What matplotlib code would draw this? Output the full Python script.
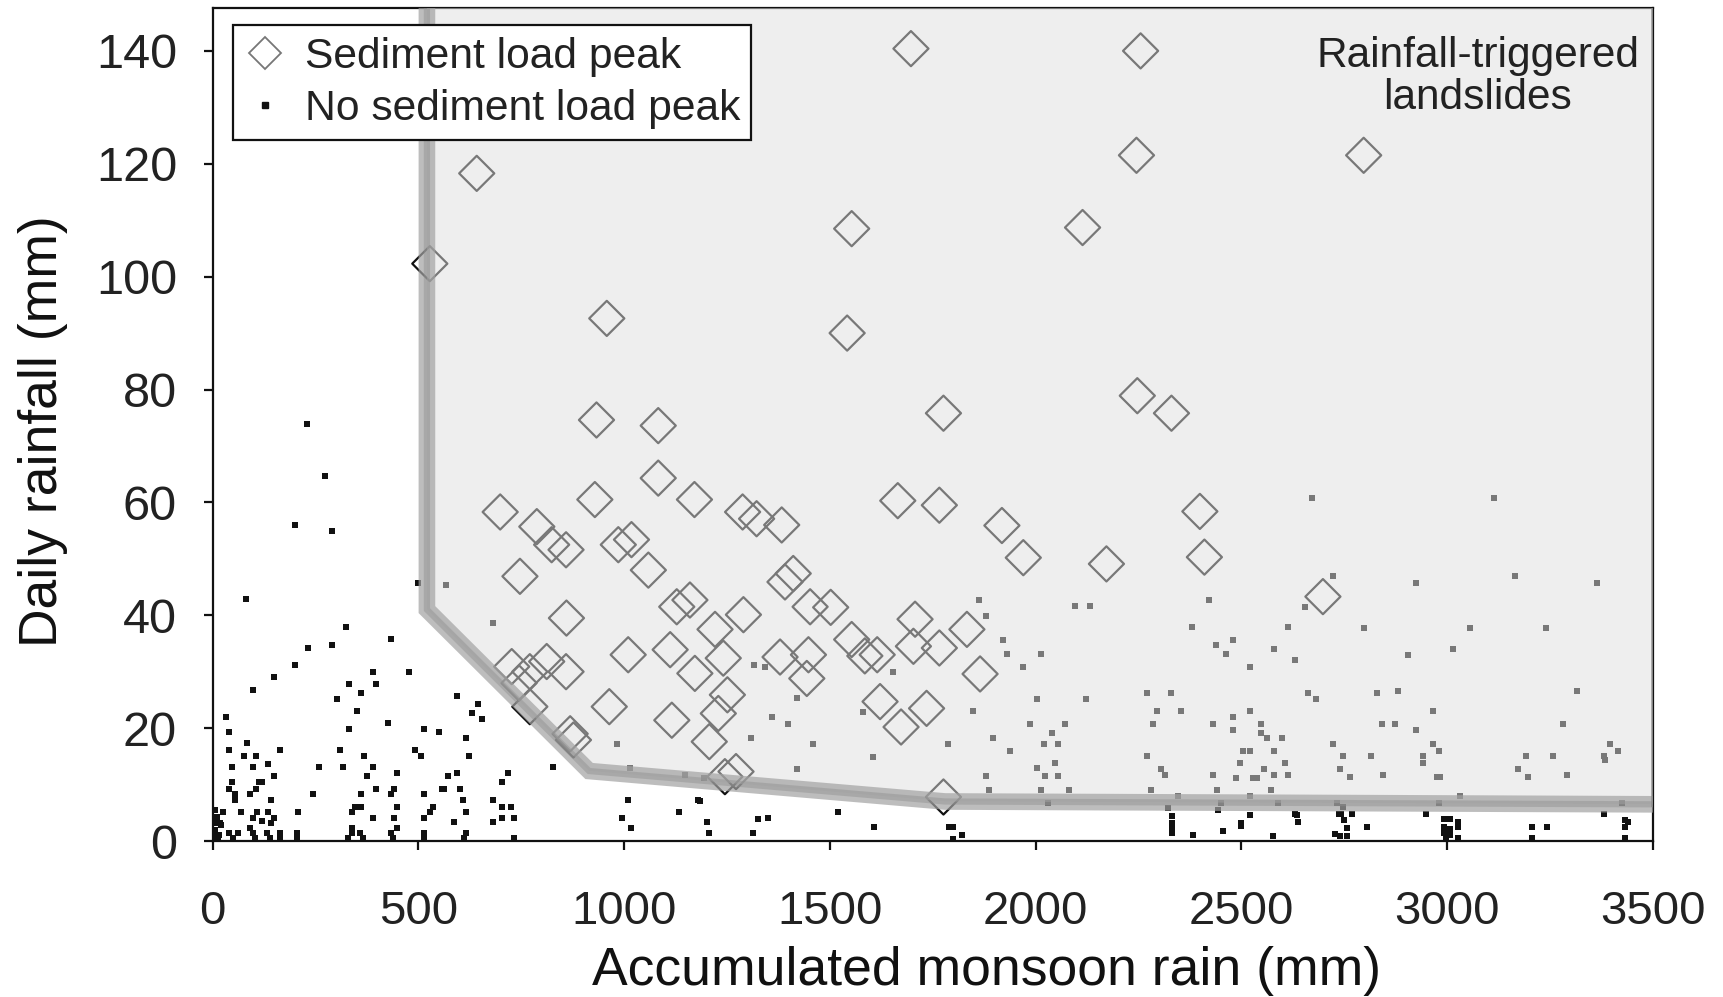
import matplotlib
matplotlib.use("Agg")
import matplotlib.pyplot as plt
from matplotlib.lines import Line2D
from matplotlib.patches import Polygon

plt.rcParams['font.family'] = ['Liberation Sans', 'DejaVu Sans']

# ---------------- data ----------------
peak_x = [528, 642, 1697, 2255, 2245, 2797, 1553, 2114, 958, 1542, 933, 1083, 1776, 2247, 2330,
          1083, 929, 699, 788, 1171, 1288, 1322, 1383, 1665, 1766, 1918, 1970, 2172, 2399, 2410,
          824, 859, 986, 1018, 1059, 747, 1391, 1411, 860, 1128, 1160, 1290, 1452, 1502, 1707,
          1703, 1833, 1221, 1241, 1010, 1112, 1379, 1448, 1553, 1585, 1615, 1766, 727, 812, 859,
          1172, 1444, 1865, 745, 771, 964, 1251, 1622, 1735, 1229, 1116, 1673, 869, 877, 1207,
          1245, 1272, 1776, 2698, 771]
peak_y = [102.3, 118.3, 140.4, 140.0, 121.5, 121.5, 108.5, 108.7, 92.6, 90.0, 74.6, 73.6, 75.8, 78.9, 75.8,
          64.3, 60.5, 58.3, 55.7, 60.5, 58.3, 57.1, 56.0, 60.3, 59.5, 55.9, 50.2, 49.1, 58.4, 50.3,
          52.5, 51.6, 52.5, 53.4, 48.0, 46.9, 45.9, 47.4, 39.5, 41.5, 42.7, 40.1, 41.5, 41.4, 39.3,
          34.5, 37.5, 37.5, 32.4, 33.0, 33.9, 32.6, 33.0, 35.7, 32.8, 33.0, 34.2, 30.9, 31.8, 30.0,
          29.7, 28.8, 29.6, 28.0, 23.8, 23.8, 25.9, 24.7, 23.5, 22.6, 21.4, 20.2, 19.0, 17.9, 17.6,
          11.4, 12.3, 7.8, 43.3, 30.0]

nopeak_x = [48, 98, 136, 259, 316, 390, 827, 149, 448, 572, 594, 718, 375, 47, 121, 114, 703,
            39, 106, 397, 441, 562, 601, 557, 55, 91, 244, 361, 434, 514, 55, 142, 609, 682, 1010, 1180,
            361, 448, 535, 703, 725, 346, 26, 69, 109, 135, 208, 339, 528, 616, 1133,
            99, 120, 149, 391, 441, 514, 703, 733, 995, 682, 587, 8, 18, 91, 142, 339, 448, 1017,
            41, 63, 99, 132, 164, 205, 339, 358, 434, 616, 514,
            4, 14, 51, 103, 140, 164, 205, 330, 366, 439, 514, 611, 733, 5, 10, 15, 20, 6, 12, 3,
            229, 273, 200, 291, 82, 324, 433, 232, 291, 200, 149, 98, 390, 477, 331, 397, 360, 302, 350,
            32, 426, 331, 514, 550, 40, 83, 615, 41, 76, 105, 163, 309, 368, 491, 506, 623,
            499, 568, 681, 593, 645, 631, 656, 983, 1316, 1343, 1308, 1015, 1148, 1193, 1359, 1399,
            1419, 1419, 1459, 1604, 1580, 1654, 1787, 1847, 1862, 1880, 2096, 2131, 1920, 1930, 2012,
            1970, 2004, 2122, 1986, 2071, 2039, 1896, 2020, 2054, 1938, 2047, 2004, 2023, 2054, 1880,
            1887, 2012, 2080, 2031,
            2421, 2381, 2614, 2438, 2480, 2463, 2579, 2630, 2521, 2271, 2330, 2296, 2354, 2521, 2480,
            2286, 2431, 2480, 2547, 2547, 2563, 2598, 2505, 2522, 2579, 2271, 2497, 2605, 2305, 2556,
            2314, 2431, 2486, 2529, 2537, 2579, 2612, 2280, 2440, 2572, 2347, 2521, 2451, 2589, 2635,
            1184, 1201, 1206, 1314, 1326, 1350, 1519, 1608, 1789, 1798, 1820, 1800,
            2322, 2331, 2331, 2331, 2331, 2382, 2444, 2455, 2500, 2500, 2521, 2577,
            2637, 2743, 2749, 2756, 2727, 2740, 2756, 2804,
            2991, 3007, 3027, 2991, 3007, 3027, 2991, 3007, 3027, 2998,
            3205, 3242, 3205, 3432, 3432, 3432, 3440,
            2740, 2764, 2845, 2940, 2976, 2982, 3173, 3197, 3290, 3383, 3031, 2731, 2981, 3424, 2748,
            2630, 2738, 2768, 2948, 3381,
            2671, 3114, 2723, 3165, 2923, 3363, 2654, 2798, 3055, 3239, 3013, 2905,
            2662, 2681, 2830, 2881, 3315, 2965, 2841, 2873, 2923, 3281, 2722, 2965, 2981, 3395, 3416,
            2748, 2814, 2940, 3191, 3256, 3382]
nopeak_y = [13.2, 13.2, 13.6, 13.2, 13.2, 13.2, 13.2, 11.5, 12.0, 11.5, 12.0, 12.0, 11.5, 10.4, 10.4, 10.4, 10.4,
            9.3, 9.3, 9.3, 9.3, 9.3, 9.3, 9.3, 8.3, 8.3, 8.3, 8.3, 8.3, 8.3, 7.2, 7.2, 7.2, 7.2, 7.2, 7.2,
            6.1, 6.1, 6.1, 6.1, 6.1, 6.1, 5.1, 5.1, 5.1, 5.1, 5.1, 5.1, 5.1, 5.1, 5.1,
            4.0, 3.6, 4.0, 4.0, 4.0, 4.0, 4.0, 4.0, 4.0, 3.4, 3.4, 3.2, 3.2, 2.3, 3.2, 2.3, 2.3, 2.3,
            1.4, 1.4, 1.4, 1.4, 1.4, 1.4, 1.4, 1.4, 1.4, 1.4, 1.4,
            0.5, 0.5, 0.5, 0.5, 0.5, 0.5, 0.5, 0.5, 0.5, 0.5, 0.5, 0.5, 0.5, 2.0, 4.2, 1.0, 2.8, 5.5, 0.2, 1.2,
            73.8, 64.7, 56.0, 55.0, 42.9, 38.0, 35.8, 34.2, 34.7, 31.1, 29.0, 26.8, 30.0, 30.0, 27.9, 27.9, 26.3, 25.2, 23.1,
            22.0, 20.9, 19.9, 19.9, 19.3, 19.3, 17.3, 18.3, 16.2, 15.1, 15.1, 16.2, 16.2, 15.1, 16.2, 15.1, 15.1,
            45.8, 45.3, 38.7, 25.7, 24.3, 22.6, 21.7, 17.2, 31.1, 30.9, 18.2, 12.9, 11.7, 11.1, 22.0, 20.8,
            12.7, 25.3, 17.2, 14.9, 22.9, 29.9, 17.1, 23.0, 42.7, 39.9, 41.7, 41.7, 35.7, 33.1, 33.1,
            30.9, 25.1, 25.1, 20.8, 20.8, 19.1, 18.2, 17.1, 17.1, 16.0, 13.9, 12.9, 11.6, 11.6, 11.6,
            9.1, 9.1, 9.1, 6.7,
            42.7, 38.0, 38.0, 34.7, 35.7, 33.1, 34.1, 32.0, 30.9, 26.2, 26.2, 23.0, 23.0, 23.0, 21.9,
            20.7, 20.7, 19.7, 20.7, 19.1, 18.2, 18.2, 16.0, 16.0, 16.0, 15.0, 13.9, 13.9, 12.8, 12.7,
            11.7, 11.7, 11.1, 11.1, 11.1, 11.7, 11.7, 9.0, 9.0, 9.0, 7.9, 7.9, 6.8, 6.7, 4.6,
            7.1, 3.4, 1.4, 1.4, 3.9, 4.0, 5.1, 2.4, 2.4, 2.4, 1.1, 0.4,
            5.8, 4.4, 3.2, 2.2, 1.4, 1.1, 5.5, 1.7, 3.2, 2.6, 4.6, 0.9,
            3.4, 4.8, 3.7, 2.3, 1.2, 0.8, 0.8, 2.4,
            3.9, 3.9, 3.4, 2.4, 2.2, 2.4, 1.4, 1.0, 0.5, 0.5,
            2.4, 2.4, 0.5, 3.7, 2.4, 0.5, 3.4,
            12.8, 11.3, 11.7, 13.8, 11.3, 11.3, 12.8, 11.3, 11.7, 14.4, 7.9, 6.8, 6.8, 6.8, 6.1,
            4.8, 4.8, 4.8, 4.8, 4.8,
            60.8, 60.8, 46.9, 46.9, 45.7, 45.7, 41.5, 37.8, 37.8, 37.8, 34.0, 33.0,
            26.2, 25.1, 26.2, 26.6, 26.6, 23.0, 20.7, 20.7, 19.7, 20.7, 17.2, 17.2, 16.0, 17.2, 16.0,
            15.0, 15.0, 15.0, 15.0, 15.0, 15.0]

# threshold boundary (accumulated rain, daily rain)
thr_x = [521, 521, 915, 1780, 3500]
thr_y = [149, 41.0, 12.4, 7.0, 6.5]

xticks = [0, 500, 1000, 1500, 2000, 2500, 3000, 3500]
yticks = [0, 20, 40, 60, 80, 100, 120, 140]

# ---------------- figure ----------------
W, H = 1723, 997
fig = plt.figure(figsize=(W / 100, H / 100), dpi=100)
ax = fig.add_axes([212.5 / W, (H - 841) / H, 1440.5 / W, 833 / H])
YTOP = 147.6
ax.set_xlim(0, 3500)
ax.set_ylim(0, YTOP)

ax.scatter(nopeak_x, nopeak_y, marker='s', s=20, c='#111111', linewidths=0, zorder=2)
ax.scatter(peak_x, peak_y, marker='D', s=320, facecolors='none', edgecolors='#111111',
           linewidths=1.6, zorder=2)

# shaded landslide region (semi-transparent over points)
poly_pts = [(thr_x[0], YTOP + 2)] + list(zip(thr_x[1:], thr_y[1:])) + [(3500, YTOP + 2)]
ax.add_patch(Polygon(poly_pts, closed=True, facecolor='#dfdfdf', edgecolor='none',
                     alpha=0.5, zorder=3))
ax.plot(thr_x, thr_y, color='#a2a2a2', lw=12, alpha=0.7, solid_joinstyle='miter',
        solid_capstyle='butt', zorder=4)
ax.plot(thr_x, thr_y, color='#909090', lw=4.5, alpha=0.45, solid_joinstyle='miter',
        solid_capstyle='butt', zorder=4)
ax.plot([3500, 3500], [thr_y[-1], YTOP + 2], color='#8a8a8a', lw=3.5, alpha=0.65, zorder=4)

for s in ax.spines.values():
    s.set_linewidth(1.6)
    s.set_color('#111111')
    s.set_zorder(2.5)

ax.set_xticks(xticks)
ax.set_yticks(yticks)
ax.tick_params(axis='both', direction='out', length=6.5, width=1.6, colors='#111111',
               labelcolor='#222222')
ax.tick_params(axis='x', pad=29, labelsize=34)
ax.tick_params(axis='y', pad=19, labelsize=35)

ax.set_xlabel('Accumulated monsoon rain (mm)', fontsize=38.5, color='#111111', va='baseline')
ax.xaxis.set_label_coords(0.5377, (841 - 985) / 833)
ax.set_ylabel('Daily rainfall (mm)', fontsize=38.5, color='#111111')
ax.yaxis.set_label_coords(-0.1003, 0.492)

ax.text(3074, 135.4, 'Rainfall-triggered\nlandslides', fontsize=30.5, color='#222222',
        ha='center', va='center', linespacing=1.05, zorder=5)

handles = [Line2D([], [], marker='D', ls='none', mfc='none', mec='#777777', ms=16, mew=1.3),
           Line2D([], [], marker='s', ls='none', mfc='#111111', mec='#111111', ms=4)]
leg = ax.legend(handles, ['Sediment load peak', 'No sediment load peak'], loc='upper left',
                bbox_to_anchor=(0.0142, 0.979), borderaxespad=0, fontsize=30.7, frameon=True,
                fancybox=False, edgecolor='#111111', framealpha=1, borderpad=0.26,
                labelspacing=0.3, handlelength=0.97, handletextpad=0.45)
leg.get_frame().set_linewidth(1.6)
leg.set_zorder(6)
for t in leg.get_texts():
    t.set_color('#222222')

fig.savefig('out.png', dpi=100, facecolor='white')
